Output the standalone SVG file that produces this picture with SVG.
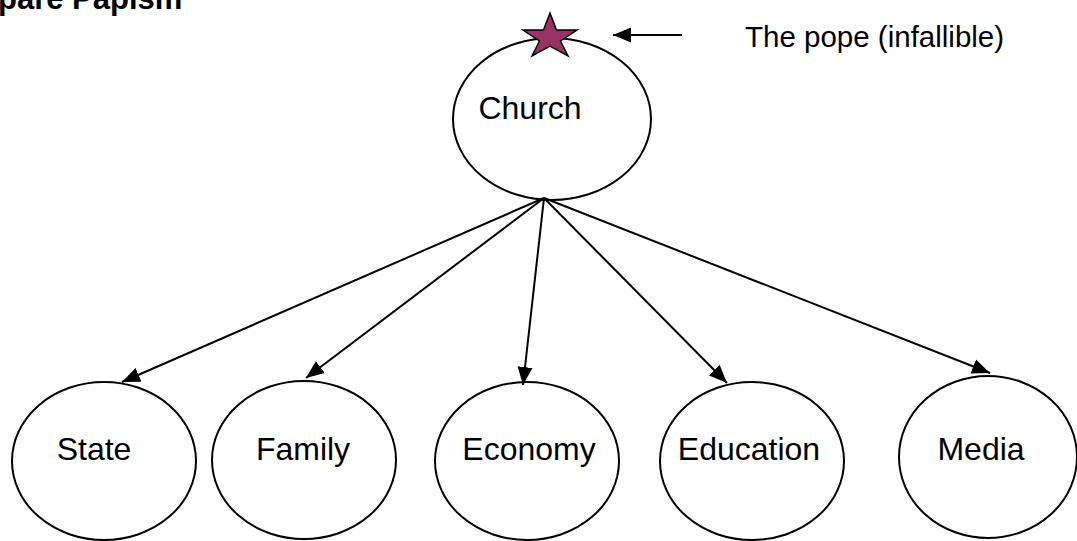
<svg xmlns="http://www.w3.org/2000/svg" width="1077" height="541" viewBox="0 0 1077 541">
<style>
  .node ellipse { fill: #ffffff; stroke: #000000; stroke-width: 2; }
  .lbl { font-family: "Liberation Sans", Arial, sans-serif; font-size: 32px; fill: #000000; text-anchor: middle; }
  .conn line { stroke: #000000; stroke-width: 2; }
  .title { font-family: "Liberation Sans", Arial, sans-serif; font-size: 31px; font-weight: bold; fill: #000000; }
  .note { font-family: "Liberation Sans", Arial, sans-serif; font-size: 29.5px; fill: #000000; }
</style>
<defs>
  <marker id="arrow" markerUnits="userSpaceOnUse" markerWidth="20" markerHeight="16" refX="18" refY="8" orient="auto">
    <path d="M0,0.5 L18,8 L0,15.5 Z" fill="#000000"/>
  </marker>
</defs>
<rect width="1077" height="541" fill="#ffffff"/>
<text class="title" x="-2" y="9">pare Papism</text>

<g id="church" class="node">
  <ellipse cx="552" cy="119" rx="99" ry="81"/>
  <text class="lbl" x="530" y="119">Church</text>
</g>
<g id="pope">
  <polygon points="550,13 556.5,30 577,30 560.5,41 568,56 550,46 532,56 539.5,41 523,30 543.5,30" fill="#993366" stroke="#000000" stroke-width="1.5"/>
  <text class="note" x="745" y="47">The pope (infallible)</text>
</g>
<g id="state" class="node">
  <ellipse cx="104" cy="461" rx="92" ry="79"/>
  <text class="lbl" x="94" y="460">State</text>
</g>
<g id="family" class="node">
  <ellipse cx="304" cy="460" rx="92" ry="79"/>
  <text class="lbl" x="303" y="460">Family</text>
</g>
<g id="economy" class="node">
  <ellipse cx="527" cy="461" rx="92" ry="79"/>
  <text class="lbl" x="529" y="460">Economy</text>
</g>
<g id="education" class="node">
  <ellipse cx="752" cy="461" rx="92" ry="79"/>
  <text class="lbl" x="749" y="460">Education</text>
</g>
<g id="media" class="node">
  <ellipse cx="988" cy="457" rx="89" ry="81"/>
  <text class="lbl" x="981" y="460">Media</text>
</g>

<g id="connectors" class="conn">
  <line x1="682" y1="35" x2="613" y2="35" marker-end="url(#arrow)"/>
  <line x1="544" y1="198" x2="122" y2="382" marker-end="url(#arrow)"/>
  <line x1="544" y1="198" x2="306" y2="378" marker-end="url(#arrow)"/>
  <line x1="544" y1="198" x2="523" y2="385" marker-end="url(#arrow)"/>
  <line x1="544" y1="198" x2="727" y2="383" marker-end="url(#arrow)"/>
  <line x1="544" y1="198" x2="990" y2="373" marker-end="url(#arrow)"/>
</g>
</svg>
